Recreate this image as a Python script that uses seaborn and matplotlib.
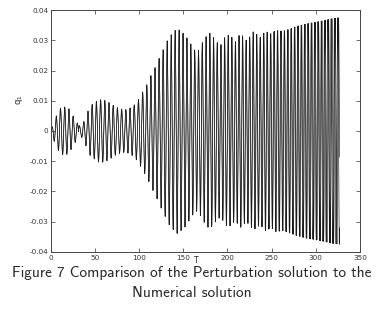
import numpy as np
import pandas as pd
import seaborn as sns
import matplotlib.pyplot as plt

# envelope of q1 (T, amplitude)
env_t = [0, 3, 6, 10, 15, 20, 25, 29, 33, 37, 41, 45, 48, 53, 58, 63, 68, 73, 79,
         84, 89, 94, 99, 104, 109, 114, 118, 124, 129, 133, 139, 143, 148, 152,
         158, 163, 167, 171, 176, 180, 184, 189, 193, 197, 201, 205, 209, 214,
         217, 221, 225, 229, 233, 237, 243, 250, 254, 263, 273, 278, 290, 300,
         310, 319, 327]
env_a = [0.000, 0.003, 0.005, 0.0075, 0.008, 0.0075, 0.005, 0.003, 0.0015, 0.003,
         0.006, 0.0085, 0.009, 0.0102, 0.0104, 0.0099, 0.009, 0.008, 0.0073,
         0.007, 0.0075, 0.0085, 0.0104, 0.013, 0.0155, 0.0188, 0.021, 0.025,
         0.028, 0.0307, 0.0328, 0.0339, 0.0328, 0.0317, 0.029, 0.0267, 0.0265,
         0.029, 0.0313, 0.0324, 0.031, 0.029, 0.0285, 0.031, 0.0317, 0.031,
         0.0295, 0.032, 0.0315, 0.030, 0.031, 0.0328, 0.032, 0.031, 0.033,
         0.032, 0.0333, 0.033, 0.034, 0.0346, 0.0355, 0.036, 0.0366, 0.0372,
         0.0375]
# local period of the oscillation
per_t = [0, 100, 140, 200, 250, 327]
per_v = [4.8, 4.75, 4.5, 4.1, 3.9, 3.7]
# phase lag (cycles) of the numerical solution behind the perturbation one
lag_t = [0, 150, 230, 280, 327]
lag_v = [0.0, 0.02, 0.06, 0.15, 0.3]

x_ticks = [0, 50, 100, 150, 200, 250, 300, 350]
y_ticks = [-0.04, -0.03, -0.02, -0.01, 0, 0.01, 0.02, 0.03, 0.04]
y_labels = ["-0.04", "-0.03", "-0.02", "-0.01", "0", "0.01", "0.02", "0.03", "0.04"]

T = np.linspace(0, 327, 8000)
dT = T[1] - T[0]
amp = np.interp(T, env_t, env_a)
cycles = np.cumsum(dT / np.interp(T, per_t, per_v))
sign = np.where(T < 31, 1.0, -1.0)  # beat near T=31 flips the phase
frames = []
for name, lag in [("Perturbation", np.zeros_like(T)),
                  ("Numerical", np.interp(T, lag_t, lag_v))]:
    q = amp * sign * np.sin(2 * np.pi * (cycles - lag))
    frames.append(pd.DataFrame({"T": T, "q1": q, "sol": name}))
df = pd.concat(frames, ignore_index=True)

sns.set_style("white")
fig = plt.figure(figsize=(3.82, 3.13), dpi=100, facecolor="white")
ax = fig.add_axes([0.1335, 0.195, 0.8085, 0.773])
sns.lineplot(data=df, x="T", y="q1", units="sol", estimator=None, sort=False,
             color="#1a1a1a", linewidth=0.45, ax=ax, legend=False)

ax.set_xlim(0, 350)
ax.set_ylim(-0.04, 0.04)
ax.set_xticks(x_ticks)
ax.set_xticklabels([str(v) for v in x_ticks])
ax.set_yticks(y_ticks)
ax.set_yticklabels(y_labels)
ax.tick_params(direction="in", length=3, width=0.6, labelsize=5.2,
               top=True, right=True, bottom=True, left=True, pad=2,
               labelcolor="#333333", color="#555555")
for s in ax.spines.values():
    s.set_linewidth(0.7)
    s.set_color("#444444")
ax.set_xlabel("T", fontsize=5.5, va="top")
ax.set_ylabel("q$_1$", fontsize=6)
ax.xaxis.set_label_coords(0.47, -0.016)
ax.yaxis.set_label_coords(-0.085, 0.63)

fig.text(0.503, 0.128, "Figure 7 Comparison of the Perturbation solution to the",
         ha="center", va="center", fontsize=11, family="cmss10")
fig.text(0.503, 0.064, "Numerical solution",
         ha="center", va="center", fontsize=11, family="cmss10")

fig.savefig("out.png", dpi=100, facecolor="white")
